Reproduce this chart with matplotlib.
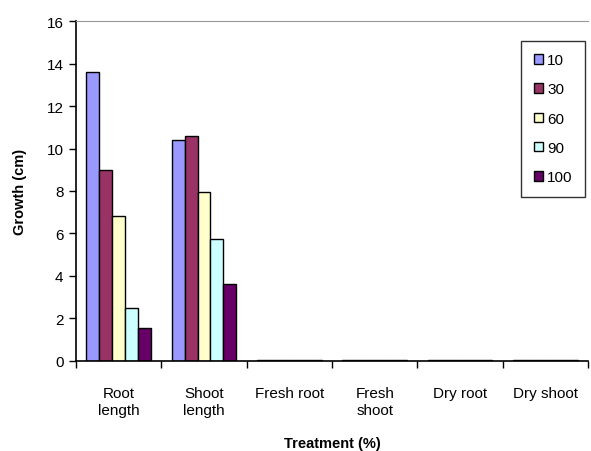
import numpy as np
import matplotlib
matplotlib.use("Agg")
import matplotlib.pyplot as plt

plt.rcParams['font.family'] = ['Liberation Sans', 'DejaVu Sans']

categories = ["Root\nlength", "Shoot\nlength", "Fresh root", "Fresh\nshoot", "Dry root", "Dry shoot"]
series = ["10", "30", "60", "90", "100"]
values = [
    [13.6, 10.4, 0.05, 0.05, 0.05, 0.05],   # 10
    [9.0, 10.6, 0.05, 0.05, 0.04, 0.05],    # 30
    [6.8, 7.95, 0.04, 0.05, 0.04, 0.04],    # 60
    [2.5, 5.75, 0.04, 0.04, 0.03, 0.04],    # 90
    [1.55, 3.6, 0.04, 0.04, 0.03, 0.04],    # 100
]
colors = ["#9999FF", "#993366", "#FFFFCC", "#CCFFFF", "#660066"]

fig = plt.figure(figsize=(5.91, 4.52), dpi=100)
ax = fig.add_axes([0.1286, 0.2, 0.8664, 0.7507])

x = np.arange(len(categories))
w = 0.152
for i, (name, vals) in enumerate(zip(series, values)):
    ax.bar(x + (i - 2) * w, vals, width=w, color=colors[i], edgecolor="black",
           linewidth=1.0, label=name)

ax.set_xlim(-0.5, len(categories) - 0.5)
ax.set_ylim(0, 16)
ax.set_yticks(np.arange(0, 17, 2))
ax.set_xticks(np.arange(-0.5, len(categories), 1.0))
ax.set_xticklabels([])
ax.set_xticks(x, minor=True)
ax.set_xticklabels(categories, minor=True, fontsize=11, linespacing=1.3)
ax.tick_params(axis="x", which="minor", length=0, pad=18)
ax.tick_params(axis="x", which="major", length=5, direction="out", width=1)
ax.tick_params(axis="y", length=5, direction="out", width=1, labelsize=11, pad=4)

ax.spines["right"].set_visible(False)
ax.spines["top"].set_color("#999999")
ax.spines["left"].set_linewidth(1.2)
ax.spines["bottom"].set_linewidth(1.2)

ax.set_ylabel("Growth (cm)", fontsize=10.5, fontweight="bold", labelpad=14)
ax.set_xlabel("Treatment (%)", fontsize=10.5, fontweight="bold", labelpad=14)

leg = ax.legend(loc="upper right", bbox_to_anchor=(0.994, 0.942), fontsize=11,
                frameon=True, fancybox=False, edgecolor="black", borderaxespad=0,
                handlelength=0.6, handleheight=0.6, handletextpad=0.3,
                labelspacing=1.0, borderpad=0.8)
leg.get_frame().set_linewidth(1.0)

fig.savefig("out.png", dpi=100)
